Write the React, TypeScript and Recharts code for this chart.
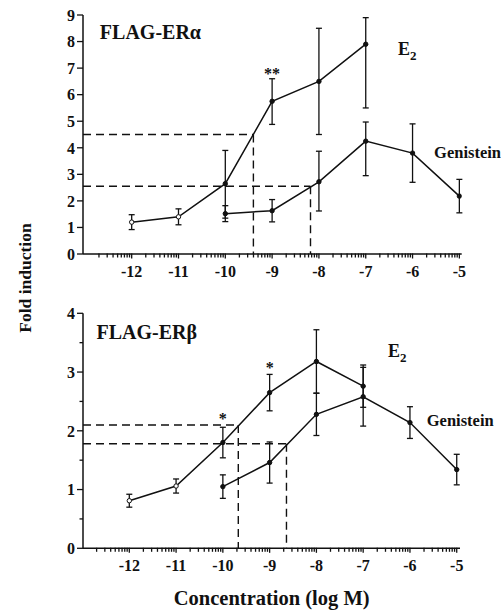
import React from 'react';
import { LineChart, Line, XAxis, YAxis, ErrorBar, ReferenceLine, ReferenceDot } from 'recharts';

const FONT = '"Liberation Serif", "Times New Roman", serif';
const INK = '#111';

// concentrations (log M)
const e2Conc = [-12, -11, -10, -9, -8, -7];
const genConc = [-10, -9, -8, -7, -6, -5];

// FLAG-ERα (top panel)
const alphaE2 = [1.2, 1.4, 2.65, 5.75, 6.5, 7.9];
const alphaE2Err = [[0.28, 0.28], [0.3, 0.3], [1.3, 1.25], [0.87, 0.85], [2.0, 2.0], [2.4, 1.0]];
const alphaGen = [1.52, 1.63, 2.72, 4.25, 3.8, 2.18];
const alphaGenErr = [[0.3, 0.3], [0.42, 0.42], [1.1, 1.15], [1.3, 0.72], [1.1, 1.1], [0.63, 0.63]];

// FLAG-ERβ (bottom panel)
const betaE2 = [0.81, 1.06, 1.8, 2.65, 3.18, 2.76];
const betaE2Err = [0.11, 0.12, 0.26, 0.31, 0.54, 0.36];
const betaGen = [1.05, 1.46, 2.28, 2.58, 2.14, 1.34];
const betaGenErr = [0.2, 0.35, 0.36, 0.5, 0.27, 0.26];

// half-maximal (EC50) guide lines: [level, concentration]
const alphaGuides = [[4.5, -9.4], [2.55, -8.18]];
const betaGuides = [[2.1, -9.67], [1.78, -8.64]];

// ticks
const xMajorTicks = [-12, -11, -10, -9, -8, -7, -6, -5];
const decadeStarts = [-13, -12, -11, -10, -9, -8, -7, -6];
const minorOffsets = [0.301, 0.477, 0.602, 0.699, 0.778, 0.845, 0.903, 0.954];
const alphaYTicks = [0, 1, 2, 3, 4, 5, 6, 7, 8, 9];
const betaYTicks = [0, 0.5, 1, 1.5, 2, 2.5, 3, 3.5, 4];

const xTicks = [
  ...xMajorTicks,
  ...decadeStarts.flatMap((d) => minorOffsets.map((o) => +(d + o).toFixed(3))),
].sort((a, b) => a - b);

const toRows = (xs: number[], ys: number[], errs: any[]) =>
  xs.map((x, i) => ({ x, y: ys[i], err: errs[i] }));

const isInt = (v: number) => Math.abs(v - Math.round(v)) < 1e-6;

const XTick = (props: any) => {
  const { x, y, payload } = props;
  const v = payload.value;
  const major = isInt(v);
  return (
    <g>
      <line x1={x} x2={x} y1={y - 0.5} y2={y + (major ? 4.5 : 3.5)} stroke={INK} strokeWidth={1.3} />
      {major && (
        <text x={x} y={y + 23} textAnchor="middle" fontFamily={FONT} fontWeight="bold" fontSize={16} fill={INK}>
          {v}
        </text>
      )}
    </g>
  );
};

const YTick = (props: any) => {
  const { x, y, payload } = props;
  const v = payload.value;
  const major = isInt(v);
  return (
    <g>
      <line x1={x - (major ? 6 : 3.5)} x2={x} y1={y} y2={y} stroke={INK} strokeWidth={1.3} />
      {major && (
        <text x={x - 8} y={y} dy="0.36em" textAnchor="end" fontFamily={FONT} fontWeight="bold" fontSize={16} fill={INK}>
          {v}
        </text>
      )}
    </g>
  );
};

const textAt = (key: string, x: number, y: number, content: React.ReactNode, size: number, anchor = 'start') => (
  <ReferenceDot
    key={key}
    x={x}
    y={y}
    r={0}
    ifOverflow="visible"
    isFront
    label={{
      content: (p: any) => (
        <text
          x={p.viewBox.x}
          y={p.viewBox.y}
          textAnchor={anchor}
          fontFamily={FONT}
          fontWeight="bold"
          fontSize={size}
          fill={INK}
        >
          {content}
        </text>
      ),
    }}
  />
);

const E2Text = (
  <>
    E<tspan dy={5} fontSize={13}>2</tspan>
  </>
);

const guideLines = (guides: number[][], xMin: number) =>
  guides.flatMap(([lvl, c], i) => [
    <ReferenceLine
      key={`h${i}`}
      segment={[{ x: xMin, y: lvl }, { x: c, y: lvl }]}
      stroke={INK}
      strokeWidth={1.4}
      strokeDasharray="8 5"
      ifOverflow="visible"
    />,
    <ReferenceLine
      key={`v${i}`}
      segment={[{ x: c, y: lvl }, { x: c, y: 0 }]}
      stroke={INK}
      strokeWidth={1.4}
      strokeDasharray="8 5"
      ifOverflow="visible"
    />,
  ]);

const dotRenderer = (openUpTo: number) => (p: any) => {
  const { cx, cy, payload, index } = p;
  const open = payload.x <= openUpTo;
  return (
    <circle key={`d${index}`} cx={cx} cy={cy} r={2.2} fill={open ? '#fff' : INK} stroke={INK} strokeWidth={1} />
  );
};

const Series = (rows: any[], name: string, openUpTo: number) => (
  <Line
    key={name}
    data={rows}
    dataKey="y"
    name={name}
    type="linear"
    stroke={INK}
    strokeWidth={1.5}
    dot={dotRenderer(openUpTo)}
    activeDot={false}
    isAnimationActive={false}
  >
    <ErrorBar dataKey="err" direction="y" width={3} stroke={INK} strokeWidth={1.3} />
  </Line>
);

const axisCommon = {
  type: 'number' as const,
  interval: 0,
  tickSize: 0,
  tickMargin: 0,
  tickLine: false,
  allowDataOverflow: true,
  axisLine: { stroke: INK, strokeWidth: 1.5 },
};

const TopPanel = () => {
  const xDomain: [number, number] = [-13.04, -4.95];
  return (
    <LineChart width={501} height={290} margin={{ top: 15, right: 39.3, bottom: 6, left: 43 }}>
      <XAxis {...axisCommon} dataKey="x" domain={xDomain} ticks={xTicks} tick={<XTick />} height={30} />
      <YAxis {...axisCommon} domain={[0, 9]} ticks={alphaYTicks} tick={<YTick />} width={40} />
      {guideLines(alphaGuides, xDomain[0])}
      {Series(toRows(e2Conc, alphaE2, alphaE2Err), 'E2', -11)}
      {Series(toRows(genConc, alphaGen, alphaGenErr), 'Genistein', -99)}
      {textAt('t1', -12.68, 8.08, 'FLAG-ERα', 20)}
      {textAt('t2', -6.31, 7.49, E2Text, 18)}
      {textAt('t3', -5.54, 3.6, 'Genistein', 16.5)}
      {textAt('t4', -9, 6.59, '**', 16, 'middle')}
    </LineChart>
  );
};

const BottomPanel = () => {
  const xDomain: [number, number] = [-12.99, -4.93];
  return (
    <LineChart width={501} height={321} margin={{ top: 23.3, right: 41, bottom: 32.7, left: 43 }}>
      <XAxis {...axisCommon} dataKey="x" domain={xDomain} ticks={xTicks} tick={<XTick />} height={30} />
      <YAxis {...axisCommon} domain={[0, 4]} ticks={betaYTicks} tick={<YTick />} width={40} />
      {guideLines(betaGuides, xDomain[0])}
      {Series(toRows(e2Conc, betaE2, betaE2Err), 'E2', -11)}
      {Series(toRows(genConc, betaGen, betaGenErr), 'Genistein', -99)}
      {textAt('b1', -12.7, 3.57, 'FLAG-ERβ', 20)}
      {textAt('b2', -6.47, 3.25, E2Text, 18)}
      {textAt('b3', -5.64, 2.08, 'Genistein', 16.5)}
      {textAt('b4', -10, 2.12, '*', 16, 'middle')}
      {textAt('b5', -9, 2.99, '*', 16, 'middle')}
    </LineChart>
  );
};

export default function App() {
  return (
    <div style={{ position: 'absolute', left: 0, top: 0, width: 501, height: 611, background: '#fff' }}>
      <div style={{ position: 'absolute', left: 0, top: 0 }}>
        <TopPanel />
      </div>
      <div style={{ position: 'absolute', left: 0, top: 290 }}>
        <BottomPanel />
      </div>
      <svg
        width={501}
        height={611}
        style={{ position: 'absolute', left: 0, top: 0, pointerEvents: 'none' }}
      >
        <text
          transform="translate(31 278) rotate(-90)"
          textAnchor="middle"
          fontFamily={FONT}
          fontWeight="bold"
          fontSize={17.5}
          fill={INK}
        >
          Fold induction
        </text>
        <text x={271.7} y={605} textAnchor="middle" fontFamily={FONT} fontWeight="bold" fontSize={20.5} fill={INK}>
          Concentration (log M)
        </text>
      </svg>
    </div>
  );
}
